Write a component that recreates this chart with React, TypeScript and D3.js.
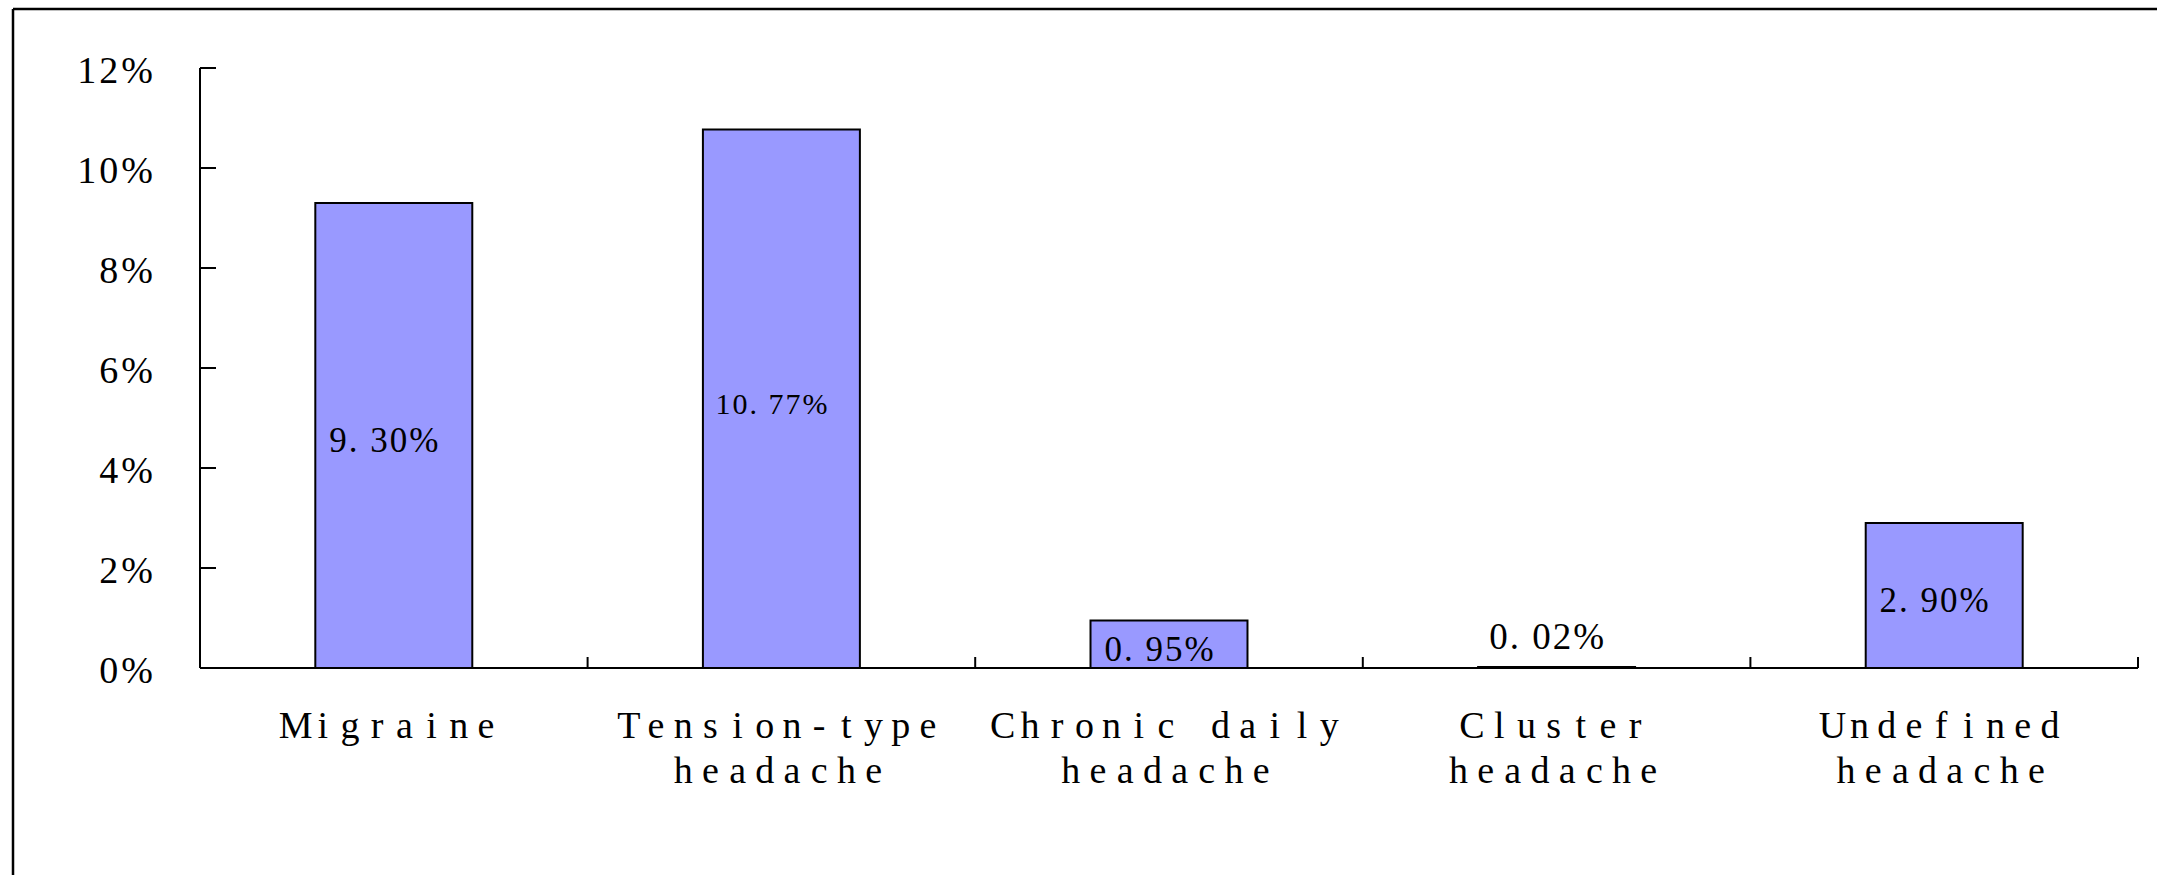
import React from 'react';
import * as d3 from 'd3';

// headache prevalence
const categories = ['Migraine', 'Tension-type headache', 'Chronic daily headache', 'Cluster headache', 'Undefined headache'];
const labelLines = [['Migraine'], ['Tension-type', 'headache'], ['Chronic daily', 'headache'], ['Cluster', 'headache'], ['Undefined', 'headache']];
const values = [9.30, 10.77, 0.95, 0.02, 2.90];
const valueLabels = ['9. 30%', '10. 77%', '0. 95%', '0. 02%', '2. 90%'];
const yTicks = [0, 2, 4, 6, 8, 10, 12];

const W = 2157;
const H = 875;
const left = 200, right = 2138, top = 68, bottom = 668;

const serif = '"Liberation Serif", "Times New Roman", serif';

// the category font is a fixed-pitch serif: put every glyph in its own cell
function MonoLine({ text, cx, y, cell }: { text: string; cx: number; y: number; cell: number }) {
    const n = text.length;
    const xs = Array.from(text).map((_, k) => (cx + (k - (n - 1) / 2) * cell).toFixed(1)).join(' ');
    return (
        <text x={xs} y={y} textAnchor="middle" fontFamily={serif} fontSize={38} fill="#000">{text}</text>
    );
}

export default function App() {
    const x = d3.scaleBand()
        .domain(categories)
        .range([left, right])
        .paddingInner(0.595)
        .paddingOuter(0.2975);
    const step = x.step();
    const y = d3.scaleLinear().domain([0, 12]).range([bottom, top]);

    return (
        <svg width={W} height={H} style={{ position: 'absolute', left: 0, top: 0, background: '#fff' }}>
            {/* outer frame, cut off at right and bottom */}
            <line x1={13} y1={9} x2={W} y2={9} stroke="#000" strokeWidth={2.5} />
            <line x1={13} y1={9} x2={13} y2={H} stroke="#000" strokeWidth={2.5} />

            {/* bars */}
            {categories.map((c, i) => (
                <rect key={c} x={x(c)} y={y(values[i])} width={x.bandwidth()}
                    height={bottom - y(values[i])} fill="#9999ff" stroke="#000" strokeWidth={2} />
            ))}

            {/* y axis */}
            <line x1={left} y1={top} x2={left} y2={bottom} stroke="#000" strokeWidth={2} />
            {yTicks.map(t => (
                <g key={t}>
                    <line x1={left} x2={left + 16} y1={y(t)} y2={y(t)} stroke="#000" strokeWidth={2} />
                    <text x={156} y={y(t) + 15} textAnchor="end" fontFamily={serif} fontSize={38}
                        letterSpacing={3} fill="#000">{t + '%'}</text>
                </g>
            ))}

            {/* x axis */}
            <line x1={left} y1={bottom} x2={right} y2={bottom} stroke="#000" strokeWidth={2} />
            {categories.map((c, i) => (
                <line key={c} x1={left + step * (i + 1)} x2={left + step * (i + 1)} y1={bottom} y2={bottom - 11}
                    stroke="#000" strokeWidth={2} />
            ))}

            {/* category labels */}
            {categories.map((c, i) => (
                <g key={c}>
                    {labelLines[i].map((l, j) => (
                        <MonoLine key={j} text={l} cx={x(c) + x.bandwidth() / 2 - 3} y={738 + j * 45} cell={27.2} />
                    ))}
                </g>
            ))}

            {/* value labels: centred in the bar, above it when the bar is too thin */}
            {categories.map((c, i) => {
                const h = bottom - y(values[i]);
                const inside = h > 30;
                const fs = i === 1 ? 30 : (inside ? 35 : 37);
                const cy = inside ? (y(values[i]) + bottom) / 2 + 5 : y(values[i]) - 30;
                return (
                    <text key={c} x={x(c) + x.bandwidth() / 2 - 9} y={cy + fs * 0.33} textAnchor="middle"
                        fontFamily={serif} fontSize={fs} letterSpacing={2} fill="#000">{valueLabels[i]}</text>
                );
            })}
        </svg>
    );
}
